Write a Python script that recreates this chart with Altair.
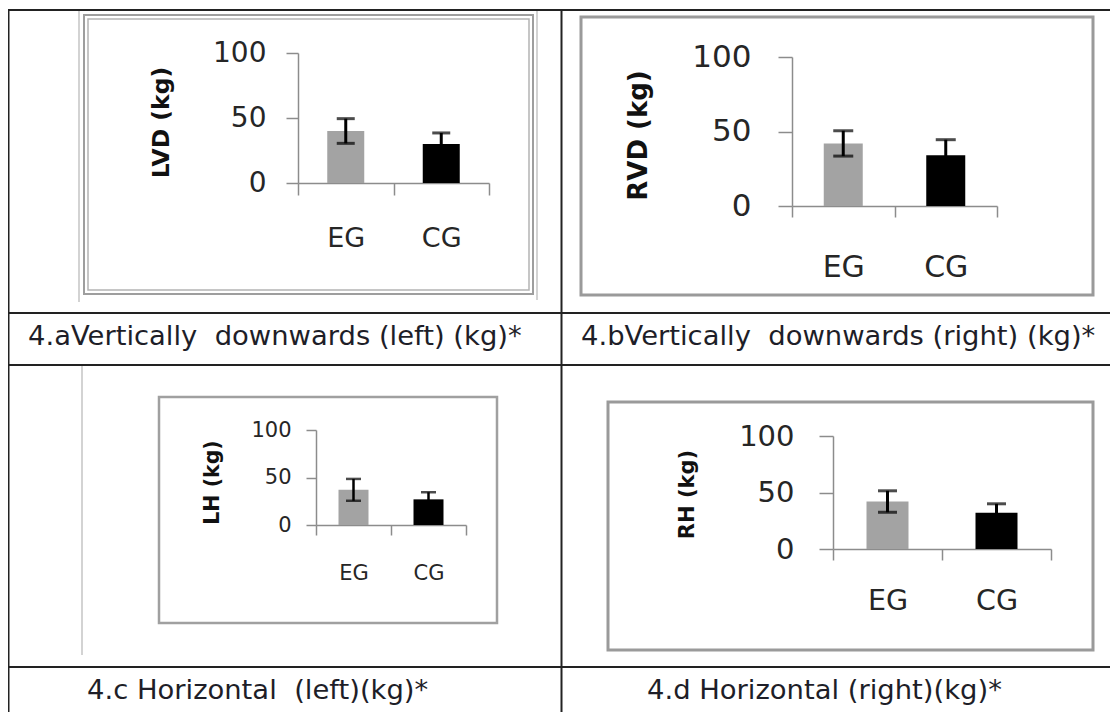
import altair as alt
import pandas as pd

# ---------------- data ----------------
groups = ["EG", "CG"]
y_titles = ["LVD (kg)", "RVD (kg)", "LH (kg)", "RH (kg)"]
captions = [
    "4.aVertically \u00a0downwards (left) (kg)*",
    "4.bVertically \u00a0downwards (right) (kg)*",
    "4.c Horizontal \u00a0(left)(kg)*",
    "4.d Horizontal (right)(kg)*",
]
means_a = [40, 30]
errs_a = [9.5, 8.5]
means_b = [42, 34]
errs_b = [8.5, 10.5]
means_c = [37, 27]
errs_c = [11.5, 7.5]
means_d = [42, 32]
errs_d = [9.5, 8.0]
y_ticks = [0, 50, 100]
y_domain = [0, 100]
bar_colors = ["#a3a3a3", "#000000"]

# ---------------- layout (page pixels; chart origin is at page 8,8) ----------------
M = 8
W, H = 1102, 704
FONT = "DejaVu Sans"

def P(v):
    return v - M

panels = [
    dict(ax=298, xe=489, y0=183, y100=53, bar=37, cap=18, ew=3, ty=12, tx=12,
         yfs=28, ypad=20, xfs=27, xpad=43, tfs=23.5, tcx=161, tcy=122),
    dict(ax=792, xe=997, y0=206, y100=57, bar=39, cap=20, ew=3, ty=14, tx=11,
         yfs=31, ypad=27, xfs=30, xpad=50, tfs=26, tcx=638, tcy=135),
    dict(ax=316, xe=466, y0=525, y100=430, bar=30, cap=15, ew=2.5, ty=10, tx=10,
         yfs=21, ypad=15, xfs=21, xpad=38, tfs=20.5, tcx=212, tcy=482),
    dict(ax=833, xe=1051, y0=549, y100=436, bar=42, cap=19, ew=3, ty=14, tx=11,
         yfs=29, ypad=25, xfs=28.5, xpad=40, tfs=21, tcx=687, tcy=494),
]
series = [(means_a, errs_a), (means_b, errs_b), (means_c, errs_c), (means_d, errs_d)]

AXIS_GRAY = "#8c8c8c"
TEXT_COL = "#262626"


def panel_chart(i):
    lay = panels[i]
    means, errs = series[i]
    df = pd.DataFrame({
        "group": groups,
        "mean": means,
        "lo": [m - e for m, e in zip(means, errs)],
        "hi": [m + e for m, e in zip(means, errs)],
    })
    xscale = alt.Scale(domain=groups, range=[P(lay["ax"]), P(lay["xe"])],
                       paddingInner=0, paddingOuter=0)
    yscale = alt.Scale(domain=y_domain, range=[P(lay["y0"]), P(lay["y100"])],
                       nice=False, zero=True)
    xaxis = alt.Axis(orient="bottom", offset=P(lay["y0"]) - H, tickBand="extent",
                     title=None, labelAngle=0, labelFontSize=lay["xfs"],
                     labelPadding=lay["xpad"], labelBaseline="middle",
                     labelColor=TEXT_COL, labelFont=FONT,
                     tickSize=lay["tx"], tickColor=AXIS_GRAY, tickWidth=1.5,
                     domainColor=AXIS_GRAY, domainWidth=1.5, grid=False)
    yaxis = alt.Axis(orient="left", offset=-P(lay["ax"]), values=y_ticks, grid=False,
                     labelFontSize=lay["yfs"], labelPadding=lay["ypad"],
                     labelColor=TEXT_COL, labelFont=FONT,
                     tickSize=lay["ty"], tickColor=AXIS_GRAY, tickWidth=1.5,
                     domainColor=AXIS_GRAY, domainWidth=1.5,
                     title=y_titles[i], titleFont=FONT, titleFontSize=lay["tfs"],
                     titleFontWeight="bold", titleColor="#111111",
                     titleAngle=270, titleAlign="center", titleBaseline="middle",
                     titleX=lay["tcx"] - lay["ax"], titleY=P(lay["tcy"]))
    base = alt.Chart(df)
    x_enc = alt.X("group:N", scale=xscale, axis=xaxis, sort=groups)
    bars = base.mark_bar(size=lay["bar"]).encode(
        x=x_enc,
        y=alt.Y("mean:Q", scale=yscale, axis=yaxis),
        color=alt.Color("group:N", scale=alt.Scale(domain=groups, range=bar_colors),
                        legend=None),
    )
    rule = base.mark_rule(color="black", strokeWidth=lay["ew"]).encode(
        x=alt.X("group:N", sort=groups), y="lo:Q", y2="hi:Q")
    cap_hi = base.mark_tick(color="black", size=lay["cap"], thickness=lay["ew"]).encode(
        x=alt.X("group:N", sort=groups), y="hi:Q")
    cap_lo = base.mark_tick(color="black", size=lay["cap"], thickness=lay["ew"]).encode(
        x=alt.X("group:N", sort=groups), y="lo:Q")
    return alt.layer(bars, rule, cap_hi, cap_lo)


one = pd.DataFrame({"k": [0]})


def line(x1, y1, x2, y2, color="#222222", width=2.0):
    return alt.Chart(one).mark_rule(color=color, strokeWidth=width).encode(
        x=alt.value(P(x1)), x2=alt.value(P(x2)), y=alt.value(P(y1)), y2=alt.value(P(y2)))


def box(x1, y1, x2, y2, color="#9a9a9a", width=3.0):
    return alt.Chart(one).mark_rect(fillOpacity=0, stroke=color, strokeWidth=width).encode(
        x=alt.value(P(x1)), x2=alt.value(P(x2)), y=alt.value(P(y1)), y2=alt.value(P(y2)))


def caption(i, x, y):
    return alt.Chart(one).mark_text(align="left", baseline="middle", font=FONT,
                                    fontSize=27.4, color="#1e1e28").encode(
        x=alt.value(P(x)), y=alt.value(P(y)), text=alt.value(captions[i]))


deco = [
    # faint scan lines
    line(79, 10, 79, 302, "#c4c4c4", 1.5),
    line(537, 10, 537, 300, "#c4c4c4", 1.5),
    line(82, 366, 82, 655, "#c4c4c4", 1.5),
    # chart frames
    box(84, 15, 533, 294, "#9e9e9e", 2.0),
    box(88, 19, 529, 290, "#b4b4b4", 1.5),
    box(581, 17, 1093, 295, "#9a9a9a", 3.0),
    box(159, 397, 497, 623, "#a0a0a0", 2.5),
    box(608, 402, 1093, 650, "#9a9a9a", 3.0),
    # table grid
    line(8.5, 10, 8.5, 712),
    line(561.5, 10, 561.5, 712),
    line(8, 10, 1118, 10),
    line(8, 313, 1118, 313),
    line(8, 365, 1118, 365),
    line(8, 667, 1118, 667),
    # captions
    caption(0, 28, 337),
    caption(1, 581, 337),
    caption(2, 87, 691),
    caption(3, 647, 691),
]

chart = alt.layer(*deco, *[panel_chart(i) for i in range(4)]).resolve_scale(
    x="independent", y="independent"
).properties(
    width=W, height=H, padding=0,
    autosize=alt.AutoSizeParams(type="none"),
    background="white",
).configure_view(stroke=None)

chart.save("out.html", embed_options={"renderer": "svg", "actions": False})
